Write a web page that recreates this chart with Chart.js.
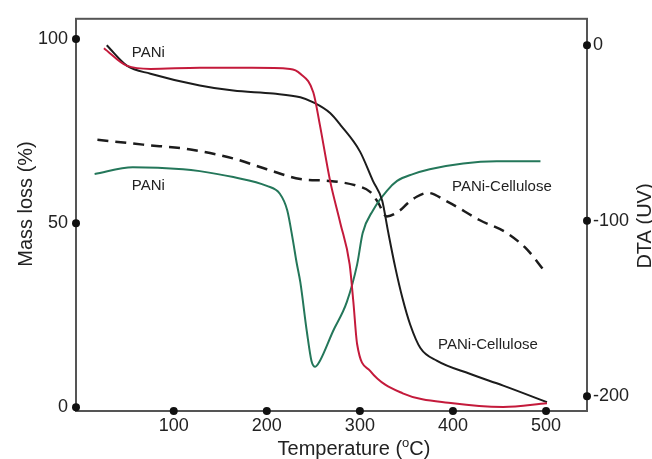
<!DOCTYPE html>
<html>
<head>
<meta charset="utf-8">
<script src="https://cdn.jsdelivr.net/npm/chart.js@4.4.1/dist/chart.umd.min.js"></script>
<style>
  html, body { margin: 0; padding: 0; background: #fff; }
</style>
</head>
<body>
<canvas id="chart" width="652" height="459"></canvas>
<script>
// TGA, mass loss (%) against temperature (oC)
const paniTemp = [25, 50, 75, 128, 184, 225, 236, 250, 257, 268, 279, 289, 293, 297, 311, 346, 400, 454, 501]
const paniMass = [97.5, 92.7, 91.9, 92.2, 92.2, 91.9, 90.6, 85.5, 76.7, 61.5, 50.0, 38.8, 28.6, 17.2, 9.9, 3.8, 1.1, 0.1, 1.1]

const celluloseTemp = [28, 50, 75, 128, 164, 207, 236, 250, 268, 279, 300, 314, 324, 330, 338, 346, 354, 365, 383, 418, 454, 501]
const celluloseMass = [98.3, 92.7, 90.6, 87.4, 86.0, 85.2, 84.2, 82.8, 79.9, 76.7, 69.5, 61.5, 56.1, 48.1, 38.0, 29.4, 22.5, 16.1, 12.6, 9.1, 5.9, 1.4]

// DTA (UV)
const paniDtaTemp = [15, 56, 110, 128, 164, 200, 214, 222, 228, 232, 236, 243, 248, 252, 257, 271, 286, 297, 303, 314, 329, 340, 357, 375, 411, 447, 494]
const paniDta = [-73.4, -69.5, -70.6, -71.7, -75.1, -80.1, -84.6, -94.1, -111.0, -123.8, -135.0, -163.1, -179.9, -183.2, -179.9, -163.1, -146.2, -125.0, -107.0, -94.1, -82.9, -77.3, -73.4, -70.6, -67.3, -66.1, -66.1]

const celluloseDtaTemp = [18, 67, 118, 164, 200, 236, 268, 297, 311, 319, 329, 343, 351, 361, 373, 394, 429, 458, 480, 497]
const celluloseDta = [-53.8, -56.6, -59.4, -64.5, -70.6, -76.2, -77.3, -80.1, -83.5, -89.1, -97.5, -94.1, -90.2, -86.3, -84.1, -89.1, -99.7, -107.0, -116.6, -127.8]

const tempTicks = [100, 200, 300, 400, 500]
const massTicks = [0, 50, 100]
const dtaTicks = [0, -100, -200]

// curve labels, placed in data units (temperature, mass %)
const curveLabels = [
    { text: 'PANi', x: 55, y: 96.2 },
    { text: 'PANi', x: 55, y: 60.1 },
    { text: 'PANi-Cellulose', x: 399, y: 59.9 },
    { text: 'PANi-Cellulose', x: 384, y: 16.9 }
]

const FONT = '"Liberation Sans", Arial, sans-serif'

const points = (xs, ys) => xs.map((x, i) => ({ x: x, y: ys[i] }))
const fixedTicks = (values) => (scale) => { scale.ticks = values.map(v => ({ value: v })) }

const tickStyle = (padding) => ({
    color: '#222',
    padding: padding,
    autoSkip: false,
    maxRotation: 0,
    font: { family: FONT, size: 18 }
})

const frame = {
    id: 'frame',
    beforeDatasetsDraw(chart) {
        const { ctx, chartArea: a } = chart
        ctx.save()
        ctx.strokeStyle = '#555'
        ctx.lineWidth = 2
        ctx.strokeRect(a.left, a.top, a.right - a.left, a.bottom - a.top)
        ctx.restore()
    },
    afterDatasetsDraw(chart) {
        const { ctx, chartArea: a, scales } = chart
        ctx.save()

        // round tick marks sitting on the axis lines
        ctx.fillStyle = '#111'
        const dot = (x, y) => {
            ctx.beginPath()
            ctx.arc(x, y, 4, 0, Math.PI * 2)
            ctx.fill()
        }
        scales.x.ticks.forEach(t => dot(scales.x.getPixelForValue(t.value), a.bottom))
        scales.y.ticks.forEach(t => dot(a.left, scales.y.getPixelForValue(t.value)))
        scales.y1.ticks.forEach(t => dot(a.right, scales.y1.getPixelForValue(t.value)))

        // curve labels
        ctx.fillStyle = '#222'
        ctx.font = '15px ' + FONT
        ctx.textBaseline = 'middle'
        ctx.textAlign = 'left'
        curveLabels.forEach(l => {
            ctx.fillText(l.text, scales.x.getPixelForValue(l.x), scales.y.getPixelForValue(l.y))
        })

        // axis titles
        ctx.font = '20px ' + FONT
        ctx.textBaseline = 'alphabetic'
        ctx.textAlign = 'center'

        ctx.save()
        ctx.translate(32, 204)
        ctx.rotate(-Math.PI / 2)
        ctx.fillText('Mass loss (%)', 0, 0)
        ctx.restore()

        ctx.save()
        ctx.translate(651, 226)
        ctx.rotate(-Math.PI / 2)
        ctx.fillText('DTA (UV)', 0, 0)
        ctx.restore()

        // Temperature (oC) with a raised small o
        const head = 'Temperature ('
        const tail = 'C)'
        ctx.font = '20px ' + FONT
        const wHead = ctx.measureText(head).width
        const wTail = ctx.measureText(tail).width
        ctx.font = '13px ' + FONT
        const wSup = ctx.measureText('o').width
        let x = 354 - (wHead + wSup + wTail) / 2
        const y = 455
        ctx.textAlign = 'left'
        ctx.font = '20px ' + FONT
        ctx.fillText(head, x, y)
        x += wHead
        ctx.font = '13px ' + FONT
        ctx.fillText('o', x, y - 8)
        x += wSup
        ctx.font = '20px ' + FONT
        ctx.fillText(tail, x, y)

        ctx.restore()
    }
}

const config = {
    type: 'line',
    data: {
        datasets: [{
            label: 'PANi TGA',
            data: points(paniTemp, paniMass),
            borderColor: '#c41a3b',
            yAxisID: 'y'
        }, {
            label: 'PANi-Cellulose TGA',
            data: points(celluloseTemp, celluloseMass),
            borderColor: '#1c1c1c',
            yAxisID: 'y'
        }, {
            label: 'PANi DTA',
            data: points(paniDtaTemp, paniDta),
            borderColor: '#24775a',
            yAxisID: 'y1'
        }, {
            label: 'PANi-Cellulose DTA',
            data: points(celluloseDtaTemp, celluloseDta),
            borderColor: '#1c1c1c',
            borderDash: [11, 7],
            borderWidth: 2.5,
            yAxisID: 'y1'
        }]
    },
    options: {
        responsive: false,
        animation: false,
        layout: {
            padding: { top: 12, left: 0, right: 0, bottom: 0 }
        },
        elements: {
            point: { radius: 0 },
            line: { borderWidth: 2, fill: false, cubicInterpolationMode: 'monotone' }
        },
        scales: {
            x: {
                type: 'linear',
                position: 'bottom',
                min: -5,
                max: 544,
                afterBuildTicks: fixedTicks(tempTicks),
                afterFit: (s) => { s.height = 48 },
                grid: { display: false, drawTicks: false },
                border: { display: false },
                ticks: tickStyle(4)
            },
            y: {
                type: 'linear',
                position: 'left',
                min: -1,
                max: 105.5,
                afterBuildTicks: fixedTicks(massTicks),
                afterFit: (s) => { s.width = 76 },
                grid: { display: false, drawTicks: false },
                border: { display: false },
                ticks: tickStyle(8)
            },
            y1: {
                type: 'linear',
                position: 'right',
                min: -208.4,
                max: 15.1,
                afterBuildTicks: fixedTicks(dtaTicks),
                afterFit: (s) => { s.width = 65 },
                grid: { display: false, drawTicks: false },
                border: { display: false },
                ticks: tickStyle(6)
            }
        },
        plugins: {
            legend: { display: false },
            tooltip: { enabled: false }
        }
    },
    plugins: [frame]
}

new Chart(document.getElementById('chart'), config)
</script>
</body>
</html>
